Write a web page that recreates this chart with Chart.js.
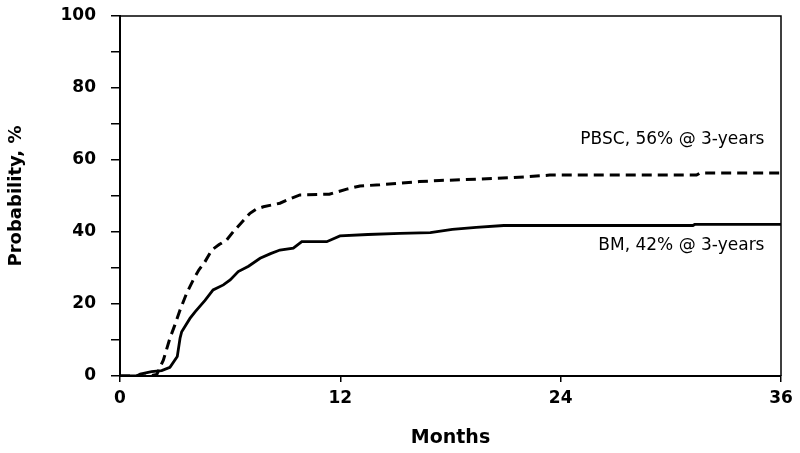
<!DOCTYPE html>
<html>
<head>
<meta charset="utf-8">
<script src="https://cdn.jsdelivr.net/npm/chart.js@4.4.0/dist/chart.umd.min.js"></script>
<style>
  html, body { margin: 0; padding: 0; background: #fff; }
  #wrap { width: 800px; height: 453px; }
</style>
</head>
<body>
<div id="wrap"><canvas id="myChart"></canvas></div>
<script>
// cumulative incidence (months, %)
const bmMonths = [0, 0.9, 1.1, 1.72, 2.27, 2.72, 3.12, 3.27, 3.36, 3.81, 4.1, 4.63, 5.07, 5.63, 6.0, 6.44, 7.0, 7.63, 8.2, 8.71, 9.44, 9.9, 11.26, 11.98, 13.5, 15.25, 16.9, 18.1, 19.4, 20.9, 31.2, 31.3, 36];
const bmValues = [0, 0, 0.5, 1.2, 1.5, 2.4, 5.4, 10.5, 12.3, 16, 17.9, 21, 23.9, 25.3, 26.7, 29, 30.5, 32.7, 34, 35, 35.5, 37.3, 37.3, 38.9, 39.3, 39.6, 39.8, 40.7, 41.3, 41.8, 41.8, 42.1, 42.1];

const pbscMonths = [0, 1.6, 2.0, 2.36, 2.72, 2.99, 3.27, 3.63, 3.99, 4.3, 4.6, 5.0, 5.4, 5.81, 6.17, 6.6, 7.08, 7.4, 7.81, 8.71, 9.3, 9.8, 11.4, 12.35, 13.07, 14.16, 16.3, 17.4, 19.5, 21.4, 23.4, 31.4, 31.6, 36];
const pbscValues = [0, 0, 0.4, 4.4, 10.5, 14.2, 18.3, 23, 26.7, 29.5, 31.5, 35, 36.5, 37.8, 40.1, 42.5, 45.2, 46.3, 47, 48, 49.3, 50.3, 50.5, 51.9, 52.8, 53.1, 54, 54.3, 54.7, 55.1, 55.8, 55.8, 56.4, 56.4];

const xTicks = [0, 12, 24, 36];
const yTicks = [0, 20, 40, 60, 80, 100];

// labels placed on the chart: [text, month, %]
const notes = [
  ["PBSC, 56% @ 3-years", 35.1, 65.6],
  ["BM, 42% @ 3-years", 35.1, 36.1],
];

const toPoints = (xs, ys) => xs.map((x, i) => ({ x: x, y: ys[i] }));

Chart.defaults.font.family = "'DejaVu Sans', Verdana, sans-serif";
Chart.defaults.color = "#000";

// top and right sides of the frame + text notes
const framePlugin = {
  id: "frame",
  afterDraw(chart) {
    const { ctx, chartArea: a, scales } = chart;
    ctx.save();
    ctx.strokeStyle = "#000";
    ctx.lineWidth = 1.5;
    ctx.beginPath();
    ctx.moveTo(a.left, a.top);
    ctx.lineTo(a.right, a.top);
    ctx.lineTo(a.right, a.bottom);
    ctx.stroke();

    ctx.font = "17px 'DejaVu Sans', Verdana, sans-serif";
    ctx.fillStyle = "#000";
    ctx.textAlign = "right";
    ctx.textBaseline = "middle";
    notes.forEach((n) => {
      ctx.fillText(n[0], scales.x.getPixelForValue(n[1]), scales.y.getPixelForValue(n[2]));
    });
    ctx.restore();
  },
};

new Chart("myChart", {
  type: "line",
  data: {
    datasets: [
      {
        label: "PBSC",
        data: toPoints(pbscMonths, pbscValues),
        borderColor: "#000",
        borderWidth: 3,
        borderDash: [10, 6],
        pointRadius: 0,
        tension: 0,
      },
      {
        label: "BM",
        data: toPoints(bmMonths, bmValues),
        borderColor: "#000",
        borderWidth: 2.8,
        pointRadius: 0,
        tension: 0,
      },
    ],
  },
  options: {
    animation: false,
    responsive: true,
    maintainAspectRatio: false,
    layout: { padding: { top: 0, right: 19, left: 0, bottom: 0 } },
    plugins: { legend: { display: false }, tooltip: { enabled: false } },
    scales: {
      x: {
        type: "linear",
        min: 0,
        max: 36,
        afterFit: (s) => { s.height = 77; },
        afterBuildTicks: (s) => { s.ticks = xTicks.map((v) => ({ value: v })); },
        border: { display: true, color: "#000", width: 2 },
        grid: { drawOnChartArea: false, drawTicks: true, tickLength: 6, tickColor: "#000", lineWidth: 1.5 },
        ticks: { font: { size: 17, weight: "bold" }, padding: 6, maxRotation: 0 },
        title: { display: true, text: "Months", font: { size: 19, weight: "bold" }, padding: { top: 12 } },
      },
      y: {
        min: 0,
        max: 100,
        afterFit: (s) => { s.width = 120; s.paddingTop = 16; },
        border: { display: true, color: "#000", width: 2 },
        grid: { drawOnChartArea: false, drawTicks: true, tickLength: 9, tickColor: "#000", lineWidth: 1.5 },
        ticks: {
          stepSize: 10,
          font: { size: 17, weight: "bold" },
          padding: 15,
          callback: (v) => (yTicks.includes(v) ? v : ""),
        },
        title: { display: true, text: "Probability, %", font: { size: 18, weight: "bold" }, padding: { bottom: 0, top: 6 } },
      },
    },
  },
  plugins: [framePlugin],
});
</script>
</body>
</html>
